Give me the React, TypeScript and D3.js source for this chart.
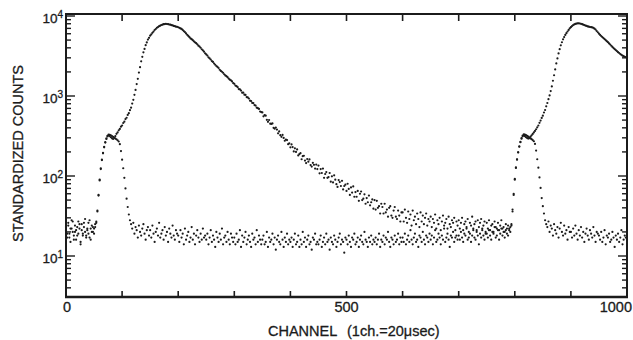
import React from "react";
import * as d3 from "d3";

// Channel spacing of the tabulated values (channels 0, 2, 4, ... 1000)
const CHANNEL_STEP = 2;

// Series A: background run with source pulses (standardized counts)
const SERIES_A: number[] = [
  21,17,24,19,15,22,27,18,20,16,23,19,25,14,21,18,26,20,17,22,19,28,16,20,23,
  19,23,26,36,58,90,125,160,195,232,265,295,318,330,328,322,316,308,300,294,288,280,270,250,205,
  160,125,95,70,52,41,33,28,25,22,26,19,23,21,17,24,20,18,22,25,19,16,21,23,18,
  21,17,24,19,15,20,22,18,26,17,19,21,16,23,18,20,15,22,19,17,24,18,16,21,19,
  18,15,21,17,19,14,22,16,18,20,15,17,23,16,19,14,18,21,17,15,19,16,22,17,18,
  16,19,14,17,21,15,18,16,13,20,17,15,19,16,22,14,17,18,15,20,16,14,19,17,15,
  17,14,19,15,16,21,13,18,15,17,20,14,16,18,15,13,19,16,17,14,21,15,18,16,14,
  16,18,14,15,20,13,17,15,16,19,14,17,12,16,18,15,14,20,16,13,17,15,19,14,16,
  15,17,13,16,19,14,15,18,13,16,14,20,15,17,13,16,18,14,15,12,17,16,19,14,15,
  14,16,18,13,15,17,14,19,15,16,12,17,15,14,18,16,13,15,17,19,14,16,15,11,17,
  16,14,18,15,13,17,16,19,14,15,17,13,16,18,15,14,20,16,15,13,17,15,18,14,16,
  15,17,14,16,19,13,16,15,18,14,17,16,20,15,13,17,16,14,18,15,16,19,14,17,15,
  17,15,19,14,16,18,15,21,16,14,17,19,15,16,13,18,17,15,20,16,14,18,17,15,19,
  16,18,14,17,21,15,16,19,17,14,18,16,22,15,17,19,16,13,18,17,20,15,17,18,16,
  18,16,20,17,15,19,18,22,16,17,19,15,18,21,17,16,20,18,14,19,17,21,18,16,19,
  19,17,21,18,16,20,19,23,17,18,21,16,19,22,18,20,17,21,19,18,22,20,24,36,58,
  92,128,162,198,235,268,298,320,332,330,324,317,310,302,295,289,281,272,252,208,162,127,96,71,53,
  42,34,28,25,23,27,20,24,22,18,25,21,19,23,17,22,26,20,18,24,19,21,16,23,20,
  20,17,22,18,24,19,16,21,18,23,17,20,15,19,22,18,16,21,19,17,23,18,15,20,19,
  18,16,20,15,17,21,14,18,17,19,15,16,20,17,13,18,16,19,15,17,21,14,16,18,17,
  16,
];

// Series B: run with sample (pulse + die-away), standardized counts
const SERIES_B: number[] = [
  23,19,26,17,22,28,20,16,24,21,18,27,22,15,25,19,23,29,18,21,26,17,22,24,20,
  22,25,27,37,57,88,122,158,192,228,262,290,312,322,316,305,296,290,302,316,337,350,372,388,413,
  428,460,478,515,535,580,610,665,715,805,895,1035,1190,1410,1640,1960,2290,2710,3090,3520,3880,4320,4680,5080,5330,
  5680,5880,6170,6380,6680,6880,7120,7280,7470,7580,7720,7790,7900,7920,7980,7940,7910,7830,7800,7690,7640,7510,7470,7360,7320,
  7230,7110,6990,6900,6690,6480,6300,6060,5810,5640,5430,5240,5130,4990,4820,4690,4570,4430,4260,4150,4010,3840,3720,3580,3420,
  3310,3200,3040,2960,2860,2730,2670,2550,2460,2370,2310,2240,2130,2060,2010,1950,1870,1810,1770,1720,1650,1600,1570,1520,1450,
  1420,1350,1330,1290,1220,1210,1170,1100,1100,1040,1030,970,960,930,875,865,820,815,770,760,715,705,690,640,630,
  624,557,577,567,504,475,501,451,448,454,400,390,404,381,342,361,324,309,326,299,276,286,281,250,256,
  228,248,230,203,222,200,215,181,188,193,162,177,179,156,145,163,151,161,137,131,146,138,124,139,122,
  135,108,122,109,124,95,106,112,95,97,109,85,99,83,102,90,79,73,89,84,75,87,68,75,78,
  65,80,69,58,72,62,74,55,63,55,65,49,60,64,50,52,59,45,53,47,57,43,47,51,39,
  50,38,49,40,42,34,45,41,34,45,35,38,31,40,42,32,30,37,41,31,29,37,32,27,35,
  35,27,38,30,26,36,29,33,24,37,28,31,25,34,29,23,35,27,32,25,30,34,24,29,27,
  31,23,29,26,33,22,28,25,30,21,27,32,24,26,29,22,31,25,23,28,26,30,21,27,24,
  28,22,26,30,21,25,27,23,29,20,26,24,31,22,25,27,21,28,23,26,29,22,24,27,20,
  26,22,28,21,24,25,20,27,23,22,26,21,24,28,22,23,20,25,22,24,21,23,25,38,60,
  90,126,160,197,232,264,292,313,322,315,305,298,294,298,310,322,336,350,366,384,406,428,462,493,532,
  568,622,668,742,818,912,1018,1152,1318,1552,1818,2148,2552,2948,3405,3845,4305,4695,5105,5445,5805,6095,6405,6695,7005,
  7250,7490,7710,7840,7960,8040,8110,8090,8060,7990,7910,7790,7710,7590,7510,7410,7360,7290,7260,7190,7110,6940,6760,6490,6260,
  6005,5795,5605,5445,5305,5145,5005,4845,4705,4545,4405,4245,4105,3975,3865,3745,3645,3535,3445,3345,3275,3195,3145,3095,3065,
  3020,
];

const X_TICK_LABELS = ["0", "500", "1000"];
const X_TICK_VALUES = [0, 500, 1000];
const X_MINOR_TICKS = [100, 200, 300, 400, 500, 600, 700, 800, 900];
const Y_DECADES = [10, 100, 1000, 10000];
const Y_DECADE_EXP = ["1", "2", "3", "4"];
const Y_TITLE = "STANDARDIZED COUNTS";
const X_TITLE_A = "CHANNEL";
const X_TITLE_B = "(1ch.=20\u03bcsec)";

const W = 633;
const H = 340;
const LEFT = 66;
const RIGHT = 627;
const TOP = 14;
const BOTTOM = 297;
const FONT = "'Liberation Sans', Arial, Helvetica, sans-serif";
const INK = "#1b1b1b";

export default function App() {
  const x = d3.scaleLinear().domain([0, 1000]).range([LEFT, RIGHT]);
  const y = d3
    .scaleLog()
    .domain([Math.pow(10, 0.4875), Math.pow(10, 4.025)])
    .range([BOTTOM, TOP]);

  const [yMin, yMax] = y.domain();
  const minorY: number[] = [];
  [1, 10, 100, 1000].forEach((dec) => {
    for (let k = 2; k <= 9; k++) {
      const v = k * dec;
      if (v >= yMin && v <= yMax) minorY.push(v);
    }
  });

  const pts = (arr: number[]) =>
    arr.map((v, i) => ({ cx: x(i * CHANNEL_STEP), cy: y(v) }));
  const ptsA = pts(SERIES_A);
  const ptsB = pts(SERIES_B);

  const textStyle = { stroke: INK, strokeWidth: 0.3 };

  return (
    <svg
      width={W}
      height={H}
      style={{ position: "absolute", left: 0, top: 0, background: "#fff" }}
      fontFamily={FONT}
    >
      <rect x={0} y={0} width={W} height={H} fill="#fff" />
      {/* data dots */}
      <g fill={INK}>
        {ptsA.map((p, i) => (
          <circle key={"a" + i} cx={p.cx} cy={p.cy} r={1.1} />
        ))}
        {ptsB.map((p, i) => (
          <circle key={"b" + i} cx={p.cx} cy={p.cy} r={1.1} />
        ))}
      </g>
      {/* frame */}
      <rect
        x={LEFT}
        y={TOP}
        width={RIGHT - LEFT}
        height={BOTTOM - TOP}
        fill="none"
        stroke={INK}
        strokeWidth={2}
      />
      <line x1={LEFT - 1} x2={RIGHT + 1} y1={BOTTOM} y2={BOTTOM} stroke={INK} strokeWidth={2.6} />
      {/* x ticks */}
      <g stroke={INK} strokeWidth={1.6}>
        {X_MINOR_TICKS.map((t) => (
          <g key={"xt" + t}>
            <line x1={x(t)} x2={x(t)} y1={TOP} y2={TOP + 7} />
            <line x1={x(t)} x2={x(t)} y1={BOTTOM} y2={BOTTOM - 6} />
          </g>
        ))}
      </g>
      {/* y ticks */}
      <g stroke={INK} strokeWidth={1.4}>
        {minorY.map((v) => (
          <g key={"ym" + v}>
            <line x1={LEFT} x2={LEFT + 5} y1={y(v)} y2={y(v)} />
            <line x1={RIGHT} x2={RIGHT - 5} y1={y(v)} y2={y(v)} />
          </g>
        ))}
        {Y_DECADES.map((v) => (
          <g key={"yM" + v}>
            <line x1={LEFT} x2={LEFT + 9} y1={y(v)} y2={y(v)} />
            <line x1={RIGHT} x2={RIGHT - 9} y1={y(v)} y2={y(v)} />
          </g>
        ))}
      </g>
      {/* y tick labels */}
      <g fill={INK} fontSize={13.5} style={textStyle}>
        {Y_DECADES.map((v, i) => (
          <text key={"yl" + v} x={LEFT - 3} y={y(v) + 7} textAnchor="end">
            10
            <tspan fontSize={10} dy={-5}>
              {Y_DECADE_EXP[i]}
            </tspan>
          </text>
        ))}
      </g>
      {/* x tick labels */}
      <g fill={INK} fontSize={14.5} style={textStyle}>
        {X_TICK_VALUES.map((v, i) => (
          <text
            key={"xl" + v}
            x={v === 1000 ? 632 : x(v) + (v === 0 ? 1 : 0)}
            y={312}
            textAnchor={v === 1000 ? "end" : "middle"}
          >
            {X_TICK_LABELS[i]}
          </text>
        ))}
      </g>
      {/* titles */}
      <g fill={INK} fontSize={14.5} style={textStyle}>
        <text x={268} y={336}>
          {X_TITLE_A}
        </text>
        <text x={347} y={336}>
          {X_TITLE_B}
        </text>
        <text transform={`translate(23,153.5) rotate(-90)`} textAnchor="middle">
          {Y_TITLE}
        </text>
      </g>
    </svg>
  );
}
